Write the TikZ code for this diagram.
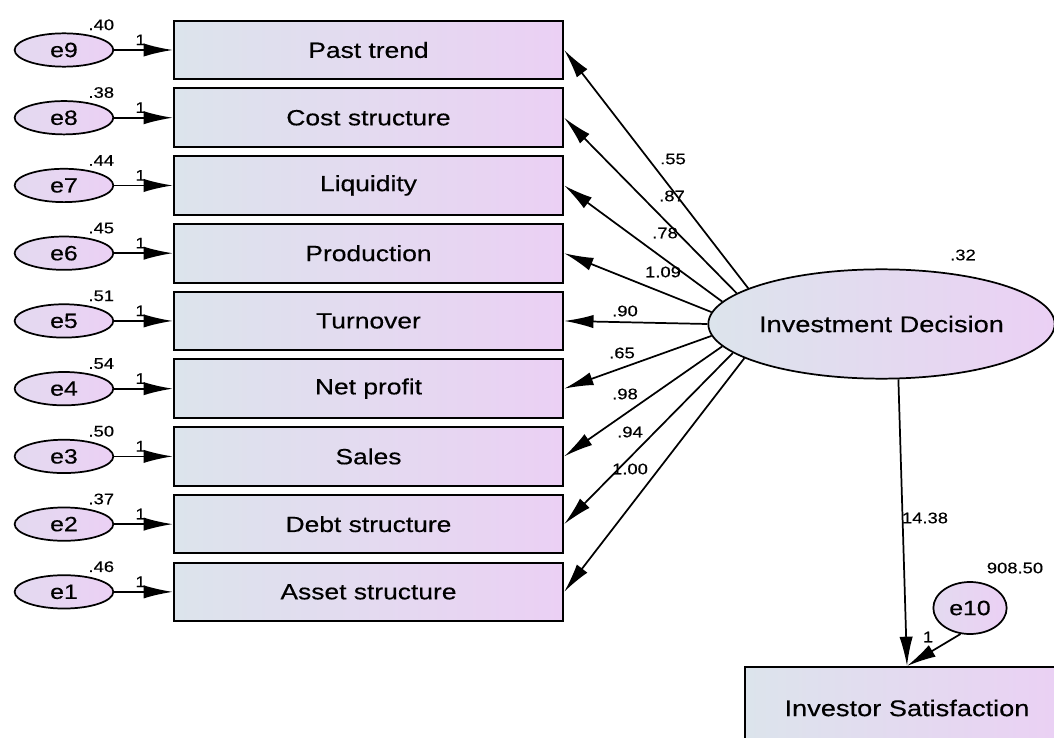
\documentclass[tikz,border=0pt]{standalone}
\usepackage{fontspec}
\setmainfont[FakeStretch=1.2,FakeBold=0.4]{Liberation Sans}
\usetikzlibrary{arrows.meta,positioning,shapes.geometric}
\definecolor{fillleft}{RGB}{220,228,236}
\definecolor{fillright}{RGB}{235,208,244}

\begin{document}
\begin{tikzpicture}[x=0.75pt,y=-0.75pt,line width=1.3pt,>={Latex[length=22pt,width=10pt]},
	obs/.style={rectangle,draw,line width=1.5pt,left color=fillleft,right color=fillright,minimum width=292pt,minimum height=44pt,font=\fontsize{16.5}{18}\selectfont},
	err/.style={ellipse,draw,left color=fillleft!50!fillright,right color=fillright,minimum width=74pt,minimum height=25pt,inner sep=0pt,font=\fontsize{15.5}{17}\selectfont},
	num/.style={inner sep=1pt,font=\fontsize{11.5}{12}\selectfont}]
	\useasboundingbox (0,0) rectangle (1054,738);
	\clip (0,0) rectangle (1054,738);
	% observed indicators
	\node[obs] (past) at (368.5,50) {Past trend};
	\node[obs] (cost) [below=5.3pt of past] {Cost structure};
	\node[obs] (liquidity) [below=5.3pt of cost] {Liquidity};
	\node[obs] (production) [below=5.3pt of liquidity] {Production};
	\node[obs] (turnover) [below=5.3pt of production] {Turnover};
	\node[obs] (netprofit) [below=5.3pt of turnover] {Net profit};
	\node[obs] (sales) [below=5.3pt of netprofit] {Sales};
	\node[obs] (debt) [below=5.3pt of sales] {Debt structure};
	\node[obs] (asset) [below=5.3pt of debt] {Asset structure};
	% error terms
	\node[err,label={[num,xshift=28pt]above:.40}] (e9) [left=44pt of past] {e9};
	\node[err,label={[num,xshift=28pt]above:.38}] (e8) [left=44pt of cost] {e8};
	\node[err,label={[num,xshift=28pt]above:.44}] (e7) [left=44pt of liquidity] {e7};
	\node[err,label={[num,xshift=28pt]above:.45}] (e6) [left=44pt of production] {e6};
	\node[err,label={[num,xshift=28pt]above:.51}] (e5) [left=44pt of turnover] {e5};
	\node[err,label={[num,xshift=28pt]above:.54}] (e4) [left=44pt of netprofit] {e4};
	\node[err,label={[num,xshift=28pt]above:.50}] (e3) [left=44pt of sales] {e3};
	\node[err,label={[num,xshift=28pt]above:.37}] (e2) [left=44pt of debt] {e2};
	\node[err,label={[num,xshift=28pt]above:.46}] (e1) [left=44pt of asset] {e1};
	% latent variable and outcome
	\node[ellipse,draw,inner sep=0pt,left color=fillleft,right color=fillright,minimum width=256pt,minimum height=82pt,font=\fontsize{17}{19}\selectfont] (ID) at (881.5,324) {Investment Decision};
	\node[rectangle,draw,line width=1.5pt,left color=fillleft,right color=fillright,minimum width=243pt,minimum height=61.5pt,font=\fontsize{17}{19}\selectfont] (IS) at (907,708) {Investor Satisfaction};
	\node[err,minimum width=55pt,minimum height=39pt] (e10) at (970,608) {e10};
	% estimates
	\node[num] (vID) at (963,255) {.32};
	\node[num] (v10) at (1015,568) {908.50};
	\node[num] (bIS) at (925,518) {14.38};
	\node[num] (w10) at (928,637) {1};
	\node[num] (b1) at (673,159) {.55};
	\node[num] (b2) at (672,196) {.87};
	\node[num] (b3) at (665,233) {.78};
	\node[num] (b4) at (663,272) {1.09};
	\node[num] (b5) at (625,311) {.90};
	\node[num] (b6) at (622,353) {.65};
	\node[num] (b7) at (625,394) {.98};
	\node[num] (b8) at (630,432) {.94};
	\node[num] (b9) at (630,469) {1.00};
	% paths
	\draw[->] (e9) to node[num,above,pos=.45,yshift=2pt] (w9) {1} (past);
	\draw[->] (e8) to node[num,above,pos=.45,yshift=2pt] (w8) {1} (cost);
	\draw[->] (e7) to node[num,above,pos=.45,yshift=2pt] (w7) {1} (liquidity);
	\draw[->] (e6) to node[num,above,pos=.45,yshift=2pt] (w6) {1} (production);
	\draw[->] (e5) to node[num,above,pos=.45,yshift=2pt] (w5) {1} (turnover);
	\draw[->] (e4) to node[num,above,pos=.45,yshift=2pt] (w4) {1} (netprofit);
	\draw[->] (e3) to node[num,above,pos=.45,yshift=2pt] (w3) {1} (sales);
	\draw[->] (e2) to node[num,above,pos=.45,yshift=2pt] (w2) {1} (debt);
	\draw[->] (e1) to node[num,above,pos=.45,yshift=2pt] (w1) {1} (asset);
	\draw[->] (ID.165) to (past.east);
	\draw[->] (ID.168) to (cost.east);
	\draw[->] (ID.172) to (liquidity.east);
	\draw[->] (ID.176) to (production.east);
	\draw[->] (ID.180) to (turnover.east);
	\draw[->] (ID.184) to (netprofit.east);
	\draw[->] (ID.188) to (sales.east);
	\draw[->] (ID.191) to (debt.east);
	\draw[->] (ID.194) to (asset.east);
	\draw[->] (ID.-73) to (IS.north);
	\draw[->] (e10.-110) to (IS.north);
\end{tikzpicture}
\end{document}
